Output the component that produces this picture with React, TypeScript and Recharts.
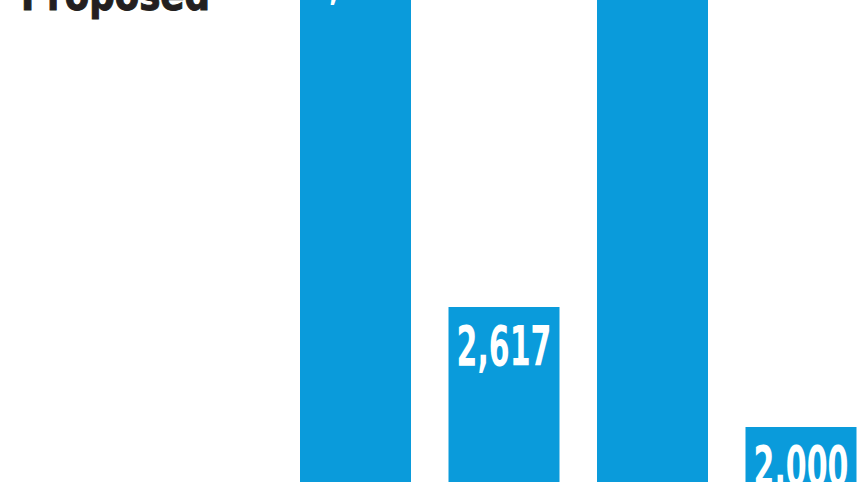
import { Bar, BarChart, LabelList, XAxis, YAxis } from "recharts";

// Cropped bar chart: baseline sits well below the visible frame, so the
// y domain starts above zero and the tall bars run off the top.
const categories = ["c1", "c2", "c3", "c4"];
const values = [4510, 2617, 5200, 2000];
const valueLabels = ["4,510", "2,617", "5,200", "2,000"];
const title = "Proposed";

const BLUE = "#0a9bdb";
const CONDENSED = "'Liberation Sans Narrow', 'DejaVu Sans Condensed', 'Roboto', sans-serif";

const data = categories.map((c, i) => ({ name: c, value: values[i], label: valueLabels[i] }));

function ValueLabel(props: any) {
  const { x, y, width, index } = props;
  const text = valueLabels[index];
  return (
    <text
      x={x + width / 2}
      y={y + 58}
      textAnchor="middle"
      fill="#ffffff"
      fontFamily={CONDENSED}
      fontWeight={700}
      fontSize={56}
      textLength={19 * text.length}
      lengthAdjust="spacingAndGlyphs"
    >
      {text}
    </text>
  );
}

export default function App() {
  return (
    <div
      style={{
        position: "fixed",
        left: 0,
        top: 0,
        width: 857,
        height: 482,
        overflow: "hidden",
        background: "#ffffff",
      }}
    >
      <BarChart
        width={875}
        height={482}
        data={data}
        margin={{ top: 0, right: 0, bottom: 0, left: 281 }}
        barSize={111}
      >
        <XAxis dataKey="name" hide />
        <YAxis domain={[1717, 4195]} allowDataOverflow hide />
        <Bar dataKey="value" fill={BLUE} isAnimationActive={false}>
          <LabelList dataKey="label" content={ValueLabel} />
        </Bar>
      </BarChart>
      <svg
        width={857}
        height={482}
        style={{ position: "absolute", left: 0, top: 0, pointerEvents: "none" }}
      >
        <text
          x={21}
          y={10}
          fill="#231f20"
          stroke="#231f20"
          strokeWidth={1}
          fontFamily={CONDENSED}
          fontWeight={700}
          fontSize={44}
          textLength={189}
          lengthAdjust="spacingAndGlyphs"
        >
          {title}
        </text>
      </svg>
    </div>
  );
}
